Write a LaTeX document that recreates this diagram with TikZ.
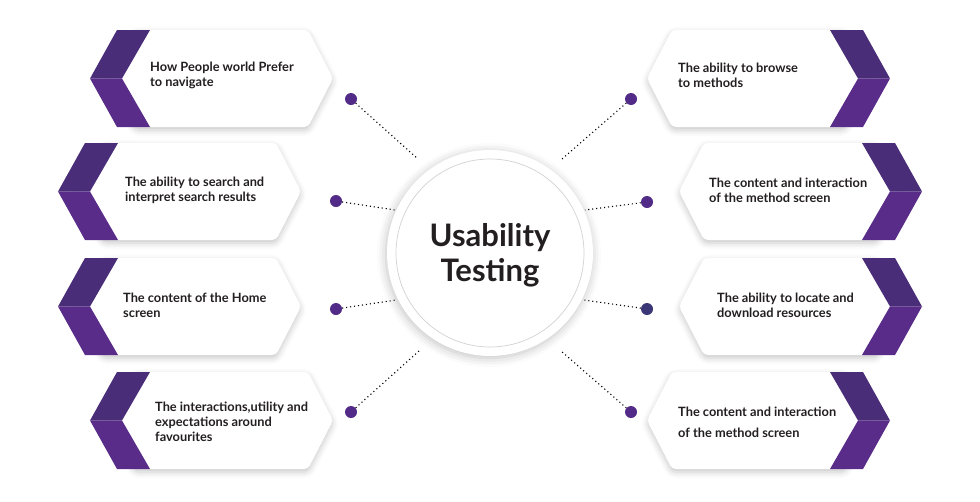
\documentclass[tikz,border=0pt]{standalone}
\usepackage{fontspec}
\setmainfont{Lato}
\usetikzlibrary{shadows.blur}
\definecolor{bandtop}{RGB}{74,45,120}
\definecolor{bandbot}{RGB}{88,44,136}
\definecolor{dotpurple}{RGB}{82,43,136}
\definecolor{dotnavy}{RGB}{59,54,118}
\definecolor{inkdark}{RGB}{35,31,32}
\definecolor{ringgrey}{RGB}{210,210,210}

\tikzset{
  cardbody/.style={fill=white,rounded corners=4pt,
    blur shadow={shadow xshift=0pt,shadow yshift=-3pt,shadow blur radius=6pt,shadow opacity=22}},
  cardtext/.style={anchor=west,align=left,text=inkdark,inner sep=0pt,
    font=\fontsize{12.8}{15}\selectfont\bfseries},
  linkdot/.style={circle,fill=dotpurple,inner sep=0pt,minimum size=12pt},
  linkline/.style={line width=1.1pt,dash pattern=on 1.1pt off 2.9pt},
}

% tip x, top y, 1 = left side / -1 = right side
\newcommand\card[3]{%
  \begin{scope}[shift={(#1,#2)},xscale=#3]
    \path[cardbody] (45,0) -- (218,0) -- (243,48.5) -- (218,97) -- (45,97) -- (20,48.5) -- cycle;
    \fill[bandtop] (27,0) -- (60,0) -- (32,48.5) -- (0,48.5) -- cycle;
    \fill[bandbot] (0,48.5) -- (32,48.5) -- (60,97) -- (27,97) -- cycle;
  \end{scope}}

\begin{document}
\begin{tikzpicture}[x=1pt,y=-1pt]
  \useasboundingbox (0,0) rectangle (980,501);

  \card{90}{30}{1}
  \card{58}{143}{1}
  \card{58}{258}{1}
  \card{90}{372}{1}
  \card{890}{30}{-1}
  \card{922}{143}{-1}
  \card{922}{258}{-1}
  \card{890}{372}{-1}

  \node[cardtext] (tl1) at (150,75.5) {How People world Prefer\\to navigate};
  \node[cardtext] (tl2) at (125,190) {The ability to search and\\interpret search results};
  \node[cardtext] (tl3) at (123,305.5) {The content of the Home\\screen};
  \node[cardtext] (tl4) at (155,422) {The interactions,utility and\\expectations around\\favourites};
  \node[cardtext] (tr1) at (678,75.5) {The ability to browse\\to methods};
  \node[cardtext] (tr2) at (709,190) {The content and interaction\\of the method screen};
  \node[cardtext] (tr3) at (717,305.5) {The ability to locate and\\download resources};
  \node[cardtext,font=\fontsize{12.8}{21}\selectfont\bfseries] (tr4) at (678,422.5)
    {The content and interaction\\of the method screen};

  % centre
  \node[circle,fill=white,minimum size=206pt,inner sep=0pt,
        blur shadow={shadow xshift=-1pt,shadow yshift=-2pt,shadow blur radius=9pt,shadow opacity=25}]
    (hub) at (490,253) {};
  \draw[ringgrey,line width=0.7pt] (hub.center) circle[radius=94];
  \node[text=inkdark,align=center,font=\fontsize{31}{35}\selectfont\bfseries]
    (title) at (490,255) {Usability\\Testing};

  % links
  \node[linkdot] (dl1) at (351,99) {};
  \node[linkdot] (dl2) at (336,201) {};
  \node[linkdot] (dl3) at (336,309) {};
  \node[linkdot] (dl4) at (351,412) {};
  \node[linkdot] (dr1) at (631,99) {};
  \node[linkdot] (dr2) at (647,202) {};
  \node[linkdot,fill=dotnavy] (dr3) at (647,309) {};
  \node[linkdot] (dr4) at (631,412) {};
  \coordinate (el1) at (418,159);
  \coordinate (el2) at (395,210);
  \coordinate (el3) at (396,300);
  \coordinate (el4) at (419,351);
  \coordinate (er1) at (562,159);
  \coordinate (er2) at (585,210);
  \coordinate (er3) at (584,300);
  \coordinate (er4) at (561,351);
  \draw[linkline] (dl1) -- (el1);
  \draw[linkline] (dl2) -- (el2);
  \draw[linkline] (dl3) -- (el3);
  \draw[linkline] (dl4) -- (el4);
  \draw[linkline] (dr1) -- (er1);
  \draw[linkline] (dr2) -- (er2);
  \draw[linkline] (dr3) -- (er3);
  \draw[linkline] (dr4) -- (er4);
\end{tikzpicture}
\end{document}
